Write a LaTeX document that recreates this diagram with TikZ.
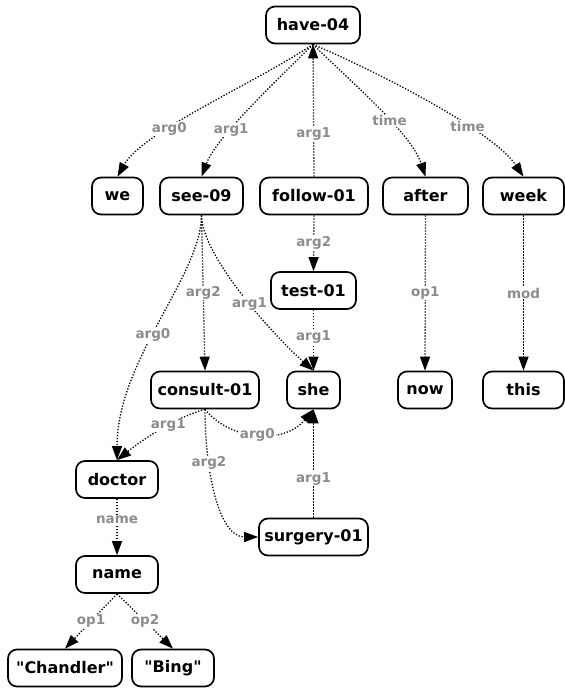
\documentclass[tikz,border=0pt]{standalone}
\usepackage{fontspec}
\setmainfont{DejaVu Sans}
\usetikzlibrary{arrows.meta}
\definecolor{relgray}{HTML}{8C8C8C}

\begin{document}
\begin{tikzpicture}[x=1pt,y=-1pt,
   concept/.style={draw,rounded corners=9pt,line width=1.7pt,
      minimum height=37pt,inner sep=0pt,font=\fontsize{16}{18}\selectfont\bfseries},
   rel/.style={fill=white,inner sep=1pt,text=relgray,
      font=\fontsize{13.5}{15}\selectfont\bfseries},
   edge/.style={line width=1.3pt,dash pattern=on 1.3pt off 1.7pt,
      -{Triangle[length=14pt,width=10pt]}}]

\useasboundingbox (0,0) rectangle (565,689);

% concepts
\node[concept,minimum width=94pt]  (have)    at (313,25)    {have-04};
\node[concept,minimum width=51pt]  (we)      at (117.5,196) {we};
\node[concept,minimum width=83pt]  (see)     at (201.5,196) {see-09};
\node[concept,minimum width=108pt] (follow)  at (314,196)   {follow-01};
\node[concept,minimum width=85pt]  (after)   at (425.5,196) {after};
\node[concept,minimum width=81pt]  (week)    at (523.5,196) {week};
\node[concept,minimum width=85pt]  (test)    at (313.5,290.5) {test-01};
\node[concept,minimum width=108pt] (consult) at (205,390)   {consult-01};
\node[concept,minimum width=53pt]  (she)     at (313.5,390) {she};
\node[concept,minimum width=54pt]  (now)     at (425,390)   {now};
\node[concept,minimum width=81pt]  (this)    at (523.5,390) {this};
\node[concept,minimum width=82pt]  (doctor)  at (117,479.5) {doctor};
\node[concept,minimum width=109pt] (surgery) at (313.5,537) {surgery-01};
\node[concept,minimum width=82pt]  (name)    at (117,574.5) {name};
\node[concept,minimum width=114pt] (chandler) at (65,668)   {\textquotedbl Chandler\textquotedbl};
\node[concept,minimum width=82pt]  (bing)    at (173,668)   {\textquotedbl Bing\textquotedbl};

% relations
\draw[edge] (have.south) .. controls +(-60,40) and +(25,-45) .. (we.north)
   node[rel,pos=.65] {arg0};
\draw[edge] (have.south) .. controls +(-35,35) and +(15,-40) .. (see.north)
   node[rel,pos=.65] {arg1};
\draw[edge] (follow.north) -- (have.south) node[rel,pos=.32] {arg1};
\draw[edge] (have.south) .. controls +(35,35) and +(-15,-45) .. (after.north)
   node[rel,pos=.6] {time};
\draw[edge] (have.south) .. controls +(70,30) and +(-30,-45) .. (week.north)
   node[rel,pos=.65] {time};
\draw[edge] (follow.south) -- (test.north) node[rel,midway] {arg2};
\draw[edge] (test.south) -- (she.north) node[rel,pos=.45] {arg1};
\draw[edge] (after.south) -- (now.north) node[rel,midway] {op1};
\draw[edge] (week.south) -- (this.north) node[rel,midway] {mod};
\draw[edge] (see.south) -- (consult.north) node[rel,midway] {arg2};
\draw[edge] (see.south) .. controls +(0,40) and +(-40,-35) .. (she.north)
   node[rel,pos=.55] {arg1};
\draw[edge] (see.south) .. controls +(0,60) and +(0,-100) .. (doctor.north)
   node[rel,pos=.55] {arg0};
\draw[edge] (consult.south) .. controls +(-30,8) and +(25,-20) .. (doctor.north)
   node[rel,pos=.4] {arg1};
\draw[edge] (consult.south) .. controls +(25,31) and +(-30,36) .. (she.south)
   node[rel,pos=.5] {arg0};
\draw[edge] (consult.south) .. controls +(0,60) and +(-40,0) .. (surgery.west)
   node[rel,pos=.3] {arg2};
\draw[edge] (surgery.north) -- (she.south) node[rel,pos=.36] {arg1};
\draw[edge] (doctor.south) -- (name.north) node[rel,pos=.38] {name};
\draw[edge] (name.south) -- (chandler.north) node[rel,midway] {op1};
\draw[edge] (name.south) -- (bing.north) node[rel,midway] {op2};

\end{tikzpicture}
\end{document}
